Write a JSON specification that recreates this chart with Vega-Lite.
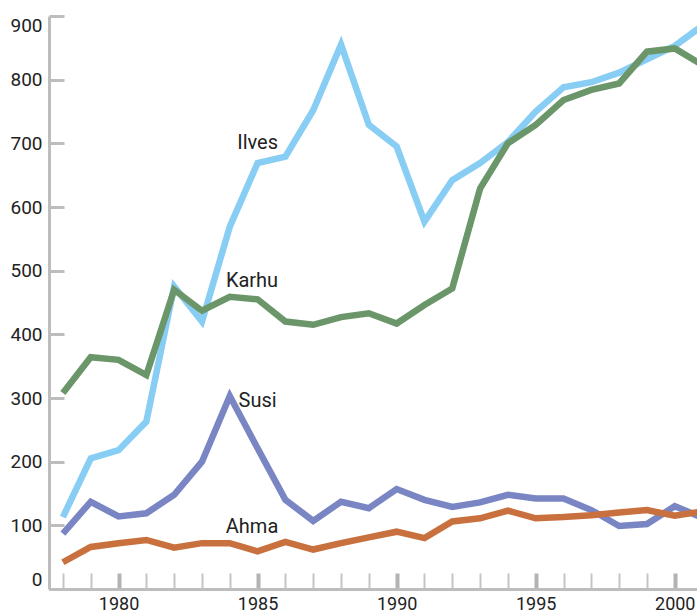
{
  "$schema": "https://vega.github.io/schema/vega-lite/v6.json",
  "width": 648,
  "height": 573,
  "autosize": "none",
  "padding": {"left": 49, "top": 16, "right": 0, "bottom": 24},
  "background": "white",
  "config": {"view": {"stroke": null}},
  "datasets": {
    "series": [
      {"series":"Susi","year":1978,"value":87},{"series":"Susi","year":1979,"value":137},{"series":"Susi","year":1980,"value":114},{"series":"Susi","year":1981,"value":119},{"series":"Susi","year":1982,"value":148},{"series":"Susi","year":1983,"value":200},{"series":"Susi","year":1984,"value":303},{"series":"Susi","year":1985,"value":221},{"series":"Susi","year":1986,"value":140},{"series":"Susi","year":1987,"value":107},{"series":"Susi","year":1988,"value":137},{"series":"Susi","year":1989,"value":127},{"series":"Susi","year":1990,"value":157},{"series":"Susi","year":1991,"value":140},{"series":"Susi","year":1992,"value":129},{"series":"Susi","year":1993,"value":136},{"series":"Susi","year":1994,"value":148},{"series":"Susi","year":1995,"value":142},{"series":"Susi","year":1996,"value":142},{"series":"Susi","year":1997,"value":124},{"series":"Susi","year":1998,"value":99},{"series":"Susi","year":1999,"value":102},{"series":"Susi","year":2000,"value":130},{"series":"Susi","year":2001,"value":112},
      {"series":"Ahma","year":1978,"value":42},{"series":"Ahma","year":1979,"value":66},{"series":"Ahma","year":1980,"value":72},{"series":"Ahma","year":1981,"value":77},{"series":"Ahma","year":1982,"value":65},{"series":"Ahma","year":1983,"value":72},{"series":"Ahma","year":1984,"value":72},{"series":"Ahma","year":1985,"value":59},{"series":"Ahma","year":1986,"value":74},{"series":"Ahma","year":1987,"value":62},{"series":"Ahma","year":1988,"value":72},{"series":"Ahma","year":1989,"value":81},{"series":"Ahma","year":1990,"value":90},{"series":"Ahma","year":1991,"value":80},{"series":"Ahma","year":1992,"value":106},{"series":"Ahma","year":1993,"value":111},{"series":"Ahma","year":1994,"value":123},{"series":"Ahma","year":1995,"value":111},{"series":"Ahma","year":1996,"value":113},{"series":"Ahma","year":1997,"value":116},{"series":"Ahma","year":1998,"value":120},{"series":"Ahma","year":1999,"value":124},{"series":"Ahma","year":2000,"value":115},{"series":"Ahma","year":2001,"value":122},
      {"series":"Ilves","year":1978,"value":113},{"series":"Ilves","year":1979,"value":205},{"series":"Ilves","year":1980,"value":218},{"series":"Ilves","year":1981,"value":263},{"series":"Ilves","year":1982,"value":475},{"series":"Ilves","year":1983,"value":420},{"series":"Ilves","year":1984,"value":569},{"series":"Ilves","year":1985,"value":669},{"series":"Ilves","year":1986,"value":679},{"series":"Ilves","year":1987,"value":752},{"series":"Ilves","year":1988,"value":855},{"series":"Ilves","year":1989,"value":729},{"series":"Ilves","year":1990,"value":695},{"series":"Ilves","year":1991,"value":577},{"series":"Ilves","year":1992,"value":642},{"series":"Ilves","year":1993,"value":669},{"series":"Ilves","year":1994,"value":702},{"series":"Ilves","year":1995,"value":750},{"series":"Ilves","year":1996,"value":788},{"series":"Ilves","year":1997,"value":796},{"series":"Ilves","year":1998,"value":811},{"series":"Ilves","year":1999,"value":832},{"series":"Ilves","year":2000,"value":853},{"series":"Ilves","year":2001,"value":885},
      {"series":"Karhu","year":1978,"value":308},{"series":"Karhu","year":1979,"value":364},{"series":"Karhu","year":1980,"value":360},{"series":"Karhu","year":1981,"value":336},{"series":"Karhu","year":1982,"value":470},{"series":"Karhu","year":1983,"value":437},{"series":"Karhu","year":1984,"value":459},{"series":"Karhu","year":1985,"value":455},{"series":"Karhu","year":1986,"value":420},{"series":"Karhu","year":1987,"value":415},{"series":"Karhu","year":1988,"value":427},{"series":"Karhu","year":1989,"value":433},{"series":"Karhu","year":1990,"value":417},{"series":"Karhu","year":1991,"value":446},{"series":"Karhu","year":1992,"value":472},{"series":"Karhu","year":1993,"value":629},{"series":"Karhu","year":1994,"value":700},{"series":"Karhu","year":1995,"value":729},{"series":"Karhu","year":1996,"value":768},{"series":"Karhu","year":1997,"value":784},{"series":"Karhu","year":1998,"value":794},{"series":"Karhu","year":1999,"value":844},{"series":"Karhu","year":2000,"value":849},{"series":"Karhu","year":2001,"value":823}
    ],
    "labels": [
      {"series":"Ilves","year":1985.0,"value":700},
      {"series":"Karhu","year":1984.8,"value":484},
      {"series":"Susi","year":1985.0,"value":295},
      {"series":"Ahma","year":1984.8,"value":97}
    ]
  },
  "resolve": {"axis": {"x": "independent"}},
  "layer": [
    {
      "data": {"name": "series"},
      "mark": {"type": "line", "strokeWidth": 6.5, "strokeJoin": "miter", "strokeCap": "butt", "clip": true},
      "encoding": {
        "x": {
          "field": "year", "type": "quantitative",
          "scale": {"domain": [1977.5, 2000.8], "nice": false, "zero": false},
          "axis": {
            "orient": "bottom",
            "title": null,
            "values": [1978,1979,1981,1982,1983,1984,1986,1987,1988,1989,1991,1992,1993,1994,1996,1997,1998,1999],
            "labels": false,
            "grid": false,
            "domainColor": "#bdbdbd", "domainWidth": 3,
            "tickColor": "#c4c4c4",
            "tickWidth": 2,
            "tickSize": -16
          }
        },
        "y": {
          "field": "value", "type": "quantitative",
          "scale": {"domain": [0, 900], "nice": false},
          "axis": {
            "title": null,
            "values": [0,100,200,300,400,500,600,700,800,900],
            "grid": false,
            "domainColor": "#bdbdbd", "domainWidth": 3,
            "tickColor": "#bdbdbd", "tickWidth": 3,
            "tickSize": -15,
            "labelPadding": 22,
            "labelFont": "Roboto",
            "labelFontSize": 19,
            "labelColor": "#222222",
            "labelFlush": true
          }
        },
        "color": {
          "field": "series", "type": "nominal", "legend": null,
          "scale": {"domain": ["Susi","Ahma","Ilves","Karhu"], "range": ["#7986c3","#c9713e","#88cdf3","#6a9669"]}
        },
        "order": {"field": "year", "type": "quantitative"}
      }
    },
    {
      "data": {"name": "labels"},
      "mark": {"type": "text", "font": "Roboto", "fontSize": 20, "color": "#222222", "align": "center", "baseline": "middle"},
      "encoding": {
        "x": {
          "field": "year", "type": "quantitative",
          "axis": {
            "orient": "bottom",
            "title": null,
            "values": [1980,1985,1990,1995,2000],
            "format": "d",
            "grid": false,
            "domainColor": "#bdbdbd", "domainWidth": 3,
            "tickColor": "#b3b3b3",
            "tickWidth": 4,
            "tickSize": -16,
            "labelPadding": 22,
            "labelFont": "Roboto",
            "labelFontSize": 18,
            "labelColor": "#222222",
            "labelFlush": false,
            "labelOverlap": false
          }
        },
        "y": {"field": "value", "type": "quantitative"},
        "text": {"field": "series"}
      }
    }
  ]
}
